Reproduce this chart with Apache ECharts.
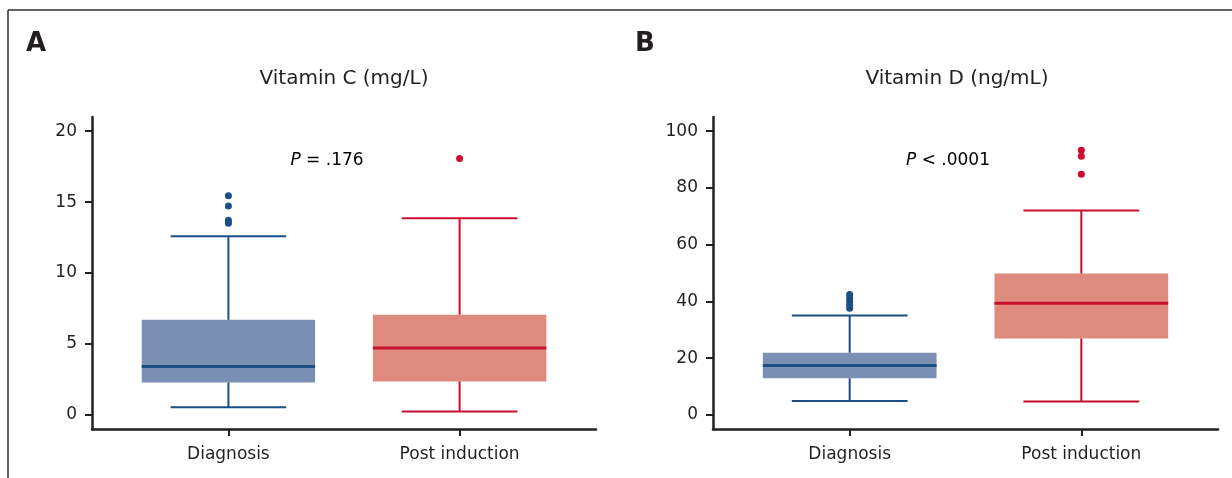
<!DOCTYPE html>
<html><head><meta charset="utf-8">
<script src="https://cdn.jsdelivr.net/npm/echarts@6/dist/echarts.min.js"></script>
<style>html,body{margin:0;padding:0;background:#fff}#c{width:1232px;height:478px}</style>
</head><body><div id="c"></div>
<script>
const categories = ['Diagnosis', 'Post induction'];
// each box: [lower whisker, Q1, median, Q3, upper whisker]
const vitCBoxes = [[0.54, 2.28, 3.41, 6.70, 12.60], [0.23, 2.35, 4.71, 7.06, 13.86]];
const vitCOutliersDiag = [15.45, 14.72, 13.72, 13.50];
const vitCOutliersPost = [18.08];
const vitDBoxes = [[4.9, 12.9, 17.4, 21.9, 35.05], [4.7, 26.9, 39.3, 49.8, 72.0]];
const vitDOutliersDiag = [42.4, 41.2, 40.0, 38.8, 37.6];
const vitDOutliersPost = [93.3, 91.2, 84.8];
const vitCTicks = [0, 5, 10, 15, 20];
const vitDTicks = [0, 20, 40, 60, 80, 100];
const pTextC = ' = .176';
const pTextD = ' < .0001';

const FONT = 'DejaVu Sans';
const INK = '#231f20';
const fills = ['#7b8fb3', '#de8a7e'];
const strokes = ['#1c4e86', '#c8102e'];

function renderBox(params, api) {
  const x = api.value(0);
  const lo = api.value(1), q1 = api.value(2), med = api.value(3), q3 = api.value(4), hi = api.value(5);
  const i = Math.round(x);
  const hw = 0.375, cw = 0.25;
  const tl = api.coord([x - hw, q3]);
  const br = api.coord([x + hw, q1]);
  const mL = api.coord([x - hw, med]);
  const mR = api.coord([x + hw, med]);
  const cTop = api.coord([x, q3]);
  const cHi = api.coord([x, hi]);
  const cBot = api.coord([x, q1]);
  const cLo = api.coord([x, lo]);
  const capHiL = api.coord([x - cw, hi]), capHiR = api.coord([x + cw, hi]);
  const capLoL = api.coord([x - cw, lo]), capLoR = api.coord([x + cw, lo]);
  const ls = {stroke: strokes[i], lineWidth: 2};
  return {
    type: 'group',
    children: [
      {type: 'rect', shape: {x: tl[0], y: tl[1], width: br[0] - tl[0], height: br[1] - tl[1]}, style: {fill: fills[i]}},
      {type: 'line', shape: {x1: cTop[0], y1: cTop[1], x2: cHi[0], y2: cHi[1]}, style: ls},
      {type: 'line', shape: {x1: cBot[0], y1: cBot[1], x2: cLo[0], y2: cLo[1]}, style: ls},
      {type: 'line', shape: {x1: capHiL[0], y1: capHiL[1], x2: capHiR[0], y2: capHiR[1]}, style: ls},
      {type: 'line', shape: {x1: capLoL[0], y1: capLoL[1], x2: capLoR[0], y2: capLoR[1]}, style: ls},
      {type: 'line', shape: {x1: mL[0], y1: mL[1], x2: mR[0], y2: mR[1]}, style: {stroke: strokes[i], lineWidth: 3}}
    ]
  };
}

function xAxisDef(gi) {
  return {
    type: 'value', gridIndex: gi, min: -0.59, max: 1.59,
    splitLine: {show: false},
    axisLine: {show: true, onZero: false, lineStyle: {color: INK, width: 2.5}},
    axisTick: {show: true, customValues: [0, 1], length: 7, lineStyle: {color: INK, width: 2}},
    axisLabel: {customValues: [0, 1], formatter: v => categories[Math.round(v)], fontSize: 17, color: INK, fontFamily: FONT, margin: 17}
  };
}
function yAxisDef(gi, mn, mx, ticks) {
  return {
    type: 'value', gridIndex: gi, min: mn, max: mx,
    splitLine: {show: false},
    axisLine: {show: true, onZero: false, lineStyle: {color: INK, width: 2.5}},
    axisTick: {show: true, customValues: ticks, length: 7, lineStyle: {color: INK, width: 2}},
    axisLabel: {customValues: ticks, fontSize: 17, color: INK, fontFamily: FONT, margin: 15}
  };
}
function boxData(boxes) { return boxes.map((b, k) => [k].concat(b)); }
function outData(k, arr) { return arr.map(v => [k, v]); }
function scatterDef(gi, k, arr) {
  return {type: 'scatter', xAxisIndex: gi, yAxisIndex: gi, data: outData(k, arr), symbolSize: 7,
    itemStyle: {color: strokes[k], opacity: 1}, silent: true, z: 3};
}

const chart = echarts.init(document.getElementById('c'), null, {renderer: 'canvas'});
chart.setOption({
  animation: false,
  backgroundColor: '#fff',
  grid: [
    {left: 92, top: 117, width: 504, height: 312},
    {left: 713, top: 117, width: 505, height: 312}
  ],
  xAxis: [xAxisDef(0), xAxisDef(1)],
  yAxis: [yAxisDef(0, -1, 21, vitCTicks), yAxisDef(1, -5, 105, vitDTicks)],
  series: [
    {type: 'custom', xAxisIndex: 0, yAxisIndex: 0, data: boxData(vitCBoxes), renderItem: renderBox, encode: {x: 0, y: [1, 2, 3, 4, 5]}},
    {type: 'custom', xAxisIndex: 1, yAxisIndex: 1, data: boxData(vitDBoxes), renderItem: renderBox, encode: {x: 0, y: [1, 2, 3, 4, 5]}},
    scatterDef(0, 0, vitCOutliersDiag),
    scatterDef(0, 1, vitCOutliersPost),
    scatterDef(1, 0, vitDOutliersDiag),
    scatterDef(1, 1, vitDOutliersPost)
  ],
  graphic: [
    {type: 'line', shape: {x1: 8, y1: 10, x2: 1232, y2: 10}, style: {stroke: '#2e2e2e', lineWidth: 1.5}},
    {type: 'line', shape: {x1: 8, y1: 10, x2: 8, y2: 478}, style: {stroke: '#2e2e2e', lineWidth: 1.5}},
    {type: 'text', left: 26, top: 31, style: {text: 'A', font: 'bold 26px "DejaVu Sans"', fill: INK}},
    {type: 'text', left: 635, top: 31, style: {text: 'B', font: 'bold 26px "DejaVu Sans"', fill: INK}},
    {type: 'text', x: 344, y: 79, style: {text: 'Vitamin C (mg/L)', font: '20px "DejaVu Sans"', fill: INK, textAlign: 'center', textVerticalAlign: 'middle'}},
    {type: 'text', x: 957, y: 79, style: {text: 'Vitamin D (ng/mL)', font: '20px "DejaVu Sans"', fill: INK, textAlign: 'center', textVerticalAlign: 'middle'}},
    {type: 'text', x: 327, y: 161, style: {text: '{i|P}{n|' + pTextC + '}', textAlign: 'center', textVerticalAlign: 'middle',
      rich: {i: {fontStyle: 'italic', fontSize: 17, fontFamily: FONT, color: INK}, n: {fontSize: 17, fontFamily: FONT, color: INK}}}},
    {type: 'text', x: 948, y: 161, style: {text: '{i|P}{n|' + pTextD + '}', textAlign: 'center', textVerticalAlign: 'middle',
      rich: {i: {fontStyle: 'italic', fontSize: 17, fontFamily: FONT, color: INK}, n: {fontSize: 17, fontFamily: FONT, color: INK}}}}
  ]
});
</script></body></html>
